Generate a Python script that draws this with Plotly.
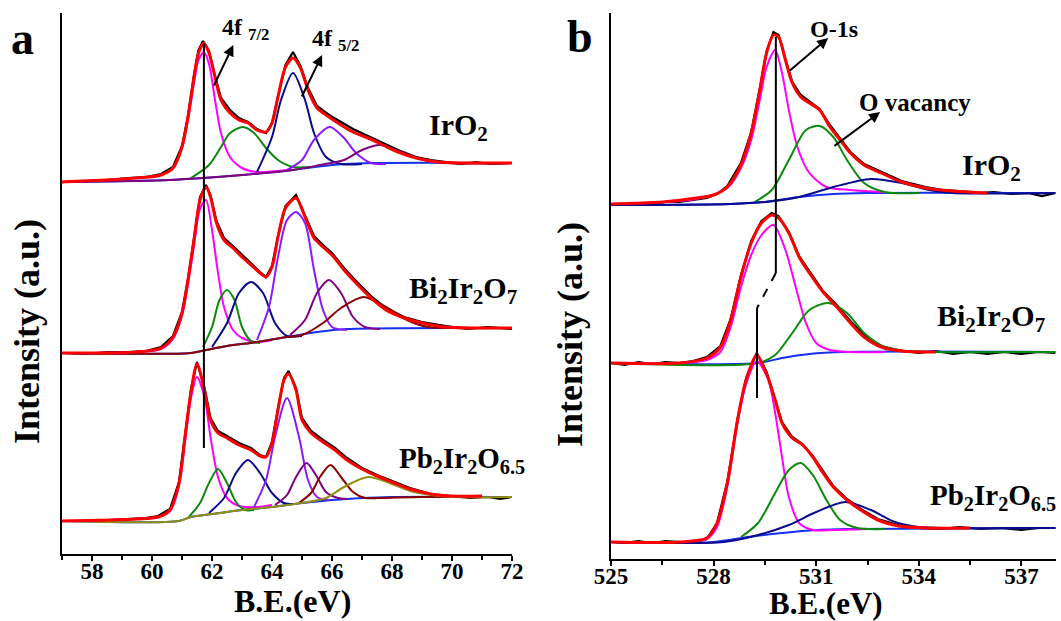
import plotly.graph_objects as go

W, H = 1061, 621

# ---------------- Panel a : Ir 4f ----------------
# IrO2
A1_DAT_X = [57.0, 57.8, 58.5, 59.2, 59.8, 60.3, 60.7, 61.0, 61.2, 61.4, 61.55, 61.7, 61.9, 62.1, 62.3, 62.6, 62.9, 63.2, 63.5, 63.8, 64.0, 64.2, 64.45, 64.7, 64.95, 65.2, 65.5, 65.9, 66.3, 66.7, 67.2, 67.7, 68.2, 68.8, 69.3, 69.8, 70.3, 70.8, 71.3, 72.0]
A1_DAT_Y = [372, 373, 374, 376, 377, 380, 387, 408, 438, 479, 504, 513, 503, 478, 456, 444, 436, 432, 425, 421, 431, 458, 489, 502, 488, 466, 448, 439, 432, 425, 418, 411, 404, 397, 394, 392, 390, 392, 390, 391]
A1_FIT_X = [57.0, 59.5, 60.3, 60.7, 61.0, 61.2, 61.4, 61.55, 61.73, 61.9, 62.1, 62.3, 62.6, 62.9, 63.2, 63.5, 63.8, 64.0, 64.2, 64.45, 64.7, 64.95, 65.2, 65.5, 65.9, 66.3, 66.7, 67.2, 67.7, 68.2, 68.8, 69.5, 70.5, 72.0]
A1_FIT_Y = [372, 376, 379, 386, 407, 437, 477, 501, 511, 501, 477, 454, 441, 434, 431, 424, 422, 431, 457, 487, 496, 486, 464, 446, 437, 429, 422, 416, 409, 402, 396, 392, 391, 391]
A1_BG_X = [57.0, 60.6, 61.7, 63.0, 64.7, 66.0, 67.5, 72.0]
A1_BG_Y = [372, 374, 376, 379, 384, 389, 391, 391]
A1_P1_X = [57.0, 59.5, 60.3, 60.7, 61.0, 61.2, 61.4, 61.55, 61.73, 61.9, 62.1, 62.3, 62.6, 63.0, 63.5, 64.5]
A1_P1_Y = [372, 376, 379, 386, 406, 434, 471, 494, 502, 490, 454, 421, 397, 386, 382, 384]
A1_P2_X = [61.3, 61.9, 62.3, 62.6, 63.03, 63.4, 63.8, 64.2, 64.7, 65.3]
A1_P2_Y = [376, 389, 407, 421, 427, 421, 406, 394, 387, 387]
A1_P3_X = [63.5, 64.0, 64.3, 64.7, 65.1, 65.4, 65.8, 66.3, 67.0]
A1_P3_Y = [382, 417, 454, 481, 454, 421, 397, 390, 390]
A1_P4_X = [64.5, 65.0, 65.4, 65.93, 66.4, 66.8, 67.3, 67.8]
A1_P4_Y = [384, 394, 414, 427, 416, 401, 391, 390]
A1_P5_X = [57.0, 60.6, 61.7, 63.0, 64.7, 65.6, 66.4, 67.0, 67.6, 68.3, 69.0, 69.8, 72.0]
A1_P5_Y = [372, 374, 376, 379, 384, 389, 394, 404, 409, 402, 395, 391, 391]

# Bi2Ir2O7
A2_DAT_X = [57.0, 57.8, 58.5, 59.2, 59.8, 60.3, 60.7, 61.0, 61.2, 61.4, 61.6, 61.8, 61.95, 62.15, 62.4, 62.7, 63.0, 63.3, 63.6, 63.8, 64.0, 64.2, 64.45, 64.8, 65.1, 65.4, 65.7, 66.0, 66.4, 66.8, 67.3, 67.8, 68.4, 69.0, 69.8, 70.5, 71.2, 72.0]
A2_DAT_Y = [201, 200, 202, 202, 203, 207, 218, 242, 275, 316, 357, 369, 359, 333, 316, 308, 299, 291, 282, 277, 288, 318, 348, 359, 339, 318, 309, 301, 286, 273, 258, 246, 237, 232, 228, 225, 227, 225]
A2_FIT_X = [57.0, 59.5, 60.3, 60.7, 61.0, 61.2, 61.4, 61.6, 61.8, 61.95, 62.15, 62.4, 62.7, 63.0, 63.3, 63.6, 63.8, 64.0, 64.2, 64.45, 64.8, 65.1, 65.4, 65.7, 66.0, 66.4, 66.8, 67.3, 67.8, 68.4, 69.0, 69.8, 72.0]
A2_FIT_Y = [201, 202, 206, 217, 241, 274, 314, 354, 367, 357, 331, 314, 306, 297, 289, 281, 277, 287, 317, 346, 356, 337, 316, 307, 299, 284, 271, 256, 244, 236, 231, 227, 226]
A2_BG_X = [57.0, 61.3, 61.8, 62.5, 63.5, 64.5, 65.5, 66.5, 72.0]
A2_BG_Y = [201, 201, 204, 208, 212, 217, 222, 225, 226]
A2_P1_X = [57.0, 59.5, 60.3, 60.7, 61.0, 61.2, 61.4, 61.6, 61.8, 62.0, 62.2, 62.4, 62.7, 63.0, 63.5, 64.0]
A2_P1_Y = [201, 202, 205, 215, 238, 270, 308, 345, 354, 324, 281, 247, 224, 216, 212, 214]
A2_P2_X = [61.7, 62.0, 62.25, 62.5, 62.75, 63.0, 63.3, 63.6]
A2_P2_Y = [207, 227, 254, 264, 254, 227, 213, 211]
A2_P3_X = [62.0, 62.5, 62.9, 63.3, 63.7, 64.1, 64.5, 65.0]
A2_P3_Y = [207, 231, 261, 272, 261, 231, 218, 218]
A2_P4_X = [63.5, 63.9, 64.2, 64.5, 64.8, 65.1, 65.4, 65.7, 66.0, 66.5]
A2_P4_Y = [214, 247, 297, 334, 342, 331, 284, 244, 227, 224]
A2_P5_X = [64.6, 65.1, 65.5, 65.9, 66.3, 66.7, 67.1, 67.6]
A2_P5_Y = [219, 234, 261, 274, 261, 237, 227, 225]
A2_P6_X = [57.0, 61.3, 61.8, 62.5, 63.5, 64.5, 65.0, 65.7, 66.3, 67.05, 67.8, 68.5, 69.2, 70.0, 72.0]
A2_P6_Y = [201, 201, 204, 208, 212, 217, 219, 231, 246, 257, 247, 234, 227, 226, 226]

# Pb2Ir2O6.5
A3_DAT_X = [57.0, 57.8, 58.5, 59.2, 59.8, 60.2, 60.6, 60.9, 61.1, 61.3, 61.5, 61.75, 61.95, 62.2, 62.5, 62.9, 63.3, 63.6, 63.8, 64.0, 64.2, 64.4, 64.55, 64.8, 65.0, 65.3, 65.7, 66.1, 66.5, 67.0, 67.5, 68.0, 68.6, 69.3, 70.0, 70.6, 71.2, 71.6, 72.0]
A3_DAT_Y = [33, 33, 34, 35, 36, 38, 45, 72, 118, 165, 192, 166, 136, 123, 118, 111, 106, 99, 97, 112, 146, 176, 183, 166, 136, 123, 114, 106, 96, 86, 79, 73, 66, 60, 58, 56, 57, 55, 57]
A3_FIT_X = [57.0, 59.5, 60.2, 60.6, 60.9, 61.1, 61.3, 61.5, 61.75, 61.95, 62.2, 62.5, 62.9, 63.3, 63.6, 63.8, 64.0, 64.2, 64.4, 64.55, 64.8, 65.0, 65.3, 65.7, 66.1, 66.5, 67.0, 67.5, 68.0, 68.6, 69.3, 70.0, 71.0]
A3_FIT_Y = [33, 35, 37, 44, 71, 117, 162, 190, 164, 134, 121, 116, 109, 104, 98, 97, 111, 144, 174, 180, 164, 134, 121, 112, 104, 94, 85, 78, 72, 65, 60, 58, 58]
A3_BG_X = [57.0, 60.9, 61.3, 62.0, 63.0, 64.0, 65.0, 66.0, 67.0, 68.0, 72.0]
A3_BG_Y = [33, 33, 37, 40, 44, 47, 51, 54, 56, 57, 57]
A3_P1_X = [57.0, 59.5, 60.2, 60.6, 60.9, 61.1, 61.3, 61.5, 61.75, 61.95, 62.2, 62.5, 62.9, 63.5, 64.0]
A3_P1_Y = [33, 35, 37, 43, 68, 112, 156, 177, 157, 117, 77, 56, 48, 47, 49]
A3_P2_X = [61.2, 61.6, 61.9, 62.2, 62.5, 62.8, 63.1, 63.4]
A3_P2_Y = [36, 51, 71, 85, 71, 52, 44, 44]
A3_P3_X = [61.9, 62.4, 62.8, 63.2, 63.6, 64.0, 64.4, 64.8]
A3_P3_Y = [41, 56, 81, 94, 81, 61, 51, 50]
A3_P4_X = [63.4, 63.8, 64.1, 64.5, 64.9, 65.2, 65.5, 65.9]
A3_P4_Y = [47, 74, 117, 156, 117, 74, 57, 54]
A3_P5_X = [64.1, 64.5, 64.8, 65.15, 65.5, 65.8, 66.2, 66.5]
A3_P5_Y = [49, 59, 77, 91, 77, 62, 56, 55]
A3_P6_X = [64.9, 65.3, 65.6, 65.95, 66.3, 66.7, 67.1, 67.6, 69.0, 71.0]
A3_P6_Y = [51, 61, 77, 89, 77, 62, 56, 56, 57, 57]
A3_P7_X = [57.0, 60.9, 61.3, 62.0, 63.0, 64.0, 65.0, 65.8, 66.4, 67.2, 68.0, 68.6, 69.3, 70.0, 72.0]
A3_P7_Y = [33, 33, 37, 40, 44, 47, 51, 56, 67, 77, 70, 63, 59, 57, 57]

# ---------------- Panel b : O 1s ----------------
B1_DAT_X = [525.0, 525.4, 525.8, 526.2, 526.6, 527.0, 527.4, 527.8, 528.1, 528.4, 528.8, 529.1, 529.35, 529.55, 529.75, 529.9, 530.1, 530.3, 530.55, 530.8, 531.1, 531.4, 531.7, 532.0, 532.4, 532.9, 533.5, 534.2, 534.7, 535.2, 535.7, 536.2, 536.7, 537.2, 537.6, 538.0]
B1_DAT_Y = [355, 354, 356, 355, 357, 357, 359, 361, 365, 373, 396, 427, 470, 508, 527, 524, 500, 477, 464, 458, 450, 434, 420, 407, 395, 387, 378, 372, 369, 368, 366, 367, 365, 366, 363, 366]
B1_FIT_X = [525.0, 526.5, 527.5, 528.0, 528.4, 528.8, 529.1, 529.35, 529.55, 529.75, 529.9, 530.1, 530.3, 530.55, 530.8, 531.1, 531.4, 531.7, 532.0, 532.4, 532.9, 533.5, 534.2, 535.0, 536.0]
B1_FIT_Y = [355, 357, 361, 364, 372, 394, 426, 469, 506, 524, 522, 499, 476, 462, 456, 449, 432, 419, 406, 394, 386, 377, 371, 368, 366]
B1_BG_X = [525.0, 528.5, 529.5, 530.5, 531.5, 532.5, 538.0]
B1_BG_Y = [354, 355, 357, 362, 365, 366, 366]
B1_P1_X = [525.0, 527.5, 528.4, 528.8, 529.1, 529.35, 529.55, 529.8, 530.0, 530.2, 530.45, 530.8, 531.3, 532.0, 533.0]
B1_P1_Y = [355, 360, 371, 391, 419, 459, 492, 509, 486, 449, 412, 386, 372, 369, 367]
B1_P2_X = [529.2, 529.7, 530.2, 530.7, 531.1, 531.5, 531.9, 532.4, 533.0, 534.0]
B1_P2_Y = [357, 369, 399, 429, 433, 422, 399, 376, 367, 366]
B1_P3_X = [525.0, 528.5, 529.5, 530.5, 531.5, 532.6, 533.5, 534.3, 535.0, 538.0]
B1_P3_Y = [354, 355, 357, 362, 372, 380, 376, 369, 366, 366]

B2_DAT_X = [525.0, 525.4, 525.8, 526.2, 526.6, 527.0, 527.4, 527.8, 528.2, 528.5, 528.8, 529.1, 529.4, 529.7, 529.9, 530.2, 530.5, 530.8, 531.2, 531.6, 532.0, 532.4, 532.9, 533.5, 534.0, 534.5, 535.0, 535.5, 536.0, 536.5, 537.0, 537.5, 538.0]
B2_DAT_Y = [196, 194, 197, 195, 197, 196, 198, 202, 213, 240, 284, 318, 338, 346, 343, 327, 303, 288, 268, 254, 238, 224, 213, 208, 206, 208, 205, 207, 205, 207, 205, 207, 206]
B2_FIT_X = [525.0, 527.0, 527.8, 528.2, 528.5, 528.8, 529.1, 529.4, 529.7, 529.9, 530.2, 530.5, 530.8, 531.2, 531.6, 532.0, 532.4, 532.9, 533.5, 534.5]
B2_FIT_Y = [196, 196, 201, 212, 239, 282, 316, 336, 344, 341, 326, 302, 286, 267, 252, 236, 222, 212, 208, 207]
B2_BG_X = [525.0, 529.3, 530.0, 530.8, 531.8, 538.0]
B2_BG_Y = [196, 196, 201, 205, 207, 207]
B2_P1_X = [525.0, 527.0, 527.8, 528.2, 528.5, 528.8, 529.1, 529.4, 529.75, 530.1, 530.4, 530.7, 531.0, 531.4, 532.0, 533.0]
B2_P1_Y = [196, 196, 199, 207, 232, 272, 304, 324, 334, 309, 272, 236, 216, 209, 207, 207]
B2_P2_X = [525.0, 529.3, 529.8, 530.3, 530.8, 531.35, 531.9, 532.4, 533.0, 533.6, 534.5, 538.0]
B2_P2_Y = [196, 196, 204, 226, 249, 256, 246, 226, 212, 208, 207, 207]

B3_DAT_X = [525.0, 525.4, 525.8, 526.2, 526.6, 527.0, 527.4, 527.8, 528.1, 528.4, 528.7, 528.95, 529.26, 529.55, 529.8, 530.0, 530.3, 530.6, 530.9, 531.2, 531.5, 531.9, 532.3, 532.8, 533.4, 534.0, 534.6, 535.2, 535.8, 536.4, 537.0, 537.5, 538.0]
B3_DAT_Y = [17, 16, 18, 16, 18, 17, 16, 20, 36, 77, 140, 181, 206, 187, 160, 137, 122, 115, 103, 88, 73, 60, 50, 40, 34, 31, 30, 32, 30, 31, 29, 31, 31]
B3_FIT_X = [525.0, 527.0, 527.8, 528.1, 528.4, 528.7, 528.95, 529.26, 529.55, 529.8, 530.0, 530.3, 530.6, 530.9, 531.2, 531.5, 531.9, 532.3, 532.8, 533.4, 534.2, 535.5]
B3_FIT_Y = [17, 17, 21, 36, 76, 139, 179, 204, 185, 159, 136, 121, 114, 102, 86, 72, 59, 49, 39, 33, 31, 31]
B3_BG_X = [525.0, 528.0, 529.0, 530.0, 531.0, 532.0, 538.0]
B3_BG_Y = [17, 17, 22, 26, 29, 30, 31]
B3_P1_X = [525.0, 527.0, 527.8, 528.1, 528.4, 528.7, 528.95, 529.26, 529.6, 529.8, 530.0, 530.2, 530.5, 530.9, 531.5, 532.5]
B3_P1_Y = [17, 17, 20, 32, 72, 136, 175, 198, 179, 146, 102, 62, 36, 29, 29, 30]
B3_P2_X = [528.8, 529.3, 529.8, 530.2, 530.55, 530.9, 531.3, 531.7, 532.2, 533.0]
B3_P2_Y = [22, 36, 66, 89, 96, 84, 59, 39, 31, 30]
B3_P3_X = [525.0, 528.3, 529.3, 530.2, 531.0, 531.85, 532.6, 533.3, 534.0, 535.0, 538.0]
B3_P3_Y = [17, 17, 24, 34, 47, 57, 49, 37, 32, 31, 31]

# guide lines and arrows (data coordinates)
A_VLINE_X = [61.73, 61.73]
A_VLINE_Y = [511, 106]
B_VLINE1_X = [529.82, 529.82]
B_VLINE1_Y = [522, 286]
B_DASH_X = [529.82, 529.27]
B_DASH_Y = [286, 251]
B_VLINE2_X = [529.27, 529.27]
B_VLINE2_Y = [251, 161]

ARROWS_A = [(62.04, 467, 62.71, 509), (64.97, 456, 65.67, 499)]
ARROWS_B = [(530.18, 487, 531.35, 521), (531.49, 412, 532.87, 447)]

# colours
MAG = '#FF00FF'
GRN = '#0B8A0B'
NAVY = '#0A0A8C'
VIO = '#8A1AFF'
PUR = '#800080'
BRN = '#8B0000'
OLV = '#8F8F12'
BLU = '#1530F0'
RED = '#FF0000'
BLK = '#000000'

FONT = 'Liberation Serif'

fig = go.Figure()


def curve(xs, ys, color, width, ax, shape='spline', dash=None):
    xa, ya = ('x', 'y') if ax == 'a' else ('x2', 'y2')
    fig.add_trace(go.Scatter(
        x=xs, y=ys, mode='lines', xaxis=xa, yaxis=ya,
        line=dict(color=color, width=width, shape=shape,
                  smoothing=0.8 if shape == 'spline' else None, dash=dash),
        showlegend=False, hoverinfo='skip'))


# panel a spectra
for dat, bg, comps, fit in [
    ((A1_DAT_X, A1_DAT_Y), (A1_BG_X, A1_BG_Y),
     [(A1_P1_X, A1_P1_Y, MAG), (A1_P2_X, A1_P2_Y, GRN), (A1_P3_X, A1_P3_Y, NAVY),
      (A1_P4_X, A1_P4_Y, VIO), (A1_P5_X, A1_P5_Y, PUR)], (A1_FIT_X, A1_FIT_Y)),
    ((A2_DAT_X, A2_DAT_Y), (A2_BG_X, A2_BG_Y),
     [(A2_P1_X, A2_P1_Y, MAG), (A2_P2_X, A2_P2_Y, GRN), (A2_P3_X, A2_P3_Y, NAVY),
      (A2_P4_X, A2_P4_Y, VIO), (A2_P5_X, A2_P5_Y, PUR), (A2_P6_X, A2_P6_Y, BRN)], (A2_FIT_X, A2_FIT_Y)),
    ((A3_DAT_X, A3_DAT_Y), (A3_BG_X, A3_BG_Y),
     [(A3_P1_X, A3_P1_Y, MAG), (A3_P2_X, A3_P2_Y, GRN), (A3_P3_X, A3_P3_Y, NAVY),
      (A3_P4_X, A3_P4_Y, VIO), (A3_P5_X, A3_P5_Y, PUR), (A3_P6_X, A3_P6_Y, BRN),
      (A3_P7_X, A3_P7_Y, OLV)], (A3_FIT_X, A3_FIT_Y)),
]:
    curve(dat[0], dat[1], BLK, 2.2, 'a', shape='linear')
    curve(bg[0], bg[1], BLU, 2, 'a')
    for cx, cy, col in comps:
        curve(cx, cy, col, 2, 'a')
    curve(fit[0], fit[1], RED, 3, 'a')

# panel b spectra
for dat, bg, comps, fit in [
    ((B1_DAT_X, B1_DAT_Y), (B1_BG_X, B1_BG_Y),
     [(B1_P1_X, B1_P1_Y, MAG), (B1_P2_X, B1_P2_Y, GRN), (B1_P3_X, B1_P3_Y, NAVY)], (B1_FIT_X, B1_FIT_Y)),
    ((B2_DAT_X, B2_DAT_Y), (B2_BG_X, B2_BG_Y),
     [(B2_P1_X, B2_P1_Y, MAG), (B2_P2_X, B2_P2_Y, GRN)], (B2_FIT_X, B2_FIT_Y)),
    ((B3_DAT_X, B3_DAT_Y), (B3_BG_X, B3_BG_Y),
     [(B3_P1_X, B3_P1_Y, MAG), (B3_P2_X, B3_P2_Y, GRN), (B3_P3_X, B3_P3_Y, NAVY)], (B3_FIT_X, B3_FIT_Y)),
]:
    curve(dat[0], dat[1], BLK, 2.2, 'b', shape='linear')
    curve(bg[0], bg[1], BLU, 2, 'b')
    for cx, cy, col in comps:
        curve(cx, cy, col, 2, 'b')
    curve(fit[0], fit[1], RED, 3, 'b')

# guide lines
curve(A_VLINE_X, A_VLINE_Y, BLK, 2, 'a', shape='linear')
curve(B_VLINE1_X, B_VLINE1_Y, BLK, 2, 'b', shape='linear')
curve(B_DASH_X, B_DASH_Y, BLK, 2, 'b', shape='linear', dash='dash')
curve(B_VLINE2_X, B_VLINE2_Y, BLK, 2, 'b', shape='linear')


def P(px, py):
    return px / W, 1 - py / H


annotations = []


def text(t, px, py, size, xanchor='center', angle=0):
    x, y = P(px, py)
    annotations.append(dict(text='<b>' + t + '</b>', x=x, y=y, xref='paper', yref='paper',
                            xanchor=xanchor, yanchor='middle', showarrow=False, textangle=angle,
                            font=dict(family=FONT, size=size, color='black')))


text('a', 22, 38, 46)
text('b', 580, 36, 46)
text('Intensity (a.u.)', 27, 332, 36, angle=-90)
text('Intensity (a.u.)', 570, 335, 36, angle=-90)
text('B.E.(eV)', 292, 601, 32)
text('B.E.(eV)', 826, 603, 31)

text('4f <sub>7/2</sub>', 220, 29, 24, xanchor='left')
text('4f <sub>5/2</sub>', 310, 40, 24, xanchor='left')
text('IrO<sub>2</sub>', 427, 127, 30, xanchor='left')
text('Bi<sub>2</sub>Ir<sub>2</sub>O<sub>7</sub>', 407, 290, 30, xanchor='left')
text('Pb<sub>2</sub>Ir<sub>2</sub>O<sub>6.5</sub>', 397, 460, 29, xanchor='left')

text('O-1s', 808, 29, 24, xanchor='left')
text('O vacancy', 857, 102, 25, xanchor='left')
text('IrO<sub>2</sub>', 960, 167, 30, xanchor='left')
text('Bi<sub>2</sub>Ir<sub>2</sub>O<sub>7</sub>', 935, 318, 30, xanchor='left')
text('Pb<sub>2</sub>Ir<sub>2</sub>O<sub>6.5</sub>', 928, 497, 29, xanchor='left')

for (tx, ty, hx, hy) in ARROWS_A:
    annotations.append(dict(x=hx, y=hy, ax=tx, ay=ty, xref='x', yref='y', axref='x', ayref='y',
                            text='', showarrow=True, arrowhead=2, arrowsize=1.1, arrowwidth=2,
                            arrowcolor='black'))
for (tx, ty, hx, hy) in ARROWS_B:
    annotations.append(dict(x=hx, y=hy, ax=tx, ay=ty, xref='x2', yref='y2', axref='x2', ayref='y2',
                            text='', showarrow=True, arrowhead=2, arrowsize=1.1, arrowwidth=2,
                            arrowcolor='black'))

tickfont = dict(family=FONT, size=23, color='black', weight='bold')
common_x = dict(showline=True, linewidth=2, linecolor='black', ticks='outside', ticklen=5,
                tickwidth=2, tickcolor='black', showgrid=False, zeroline=False, tickfont=tickfont,
                automargin=False)
common_y = dict(showline=True, linewidth=2, linecolor='black', ticks='', showticklabels=False,
                showgrid=False, zeroline=False, automargin=False)

fig.update_layout(
    template='none',
    width=W, height=H, margin=dict(l=0, r=0, t=0, b=0, pad=0, autoexpand=False),
    paper_bgcolor='white', plot_bgcolor='white', showlegend=False,
    xaxis=dict(domain=[62 / W, 512 / W], range=[57, 72], anchor='y', tick0=58, dtick=2,
               ticklabelstandoff=-10,
               minor=dict(ticks='outside', ticklen=4, tickwidth=2, tickcolor='black', tick0=57, dtick=1),
               **common_x),
    yaxis=dict(domain=[1 - 554 / H, 1 - 13 / H], range=[0, 541], anchor='x', **common_y),
    xaxis2=dict(domain=[611 / W, 1055.6 / W], range=[525, 538], anchor='y2', tick0=525, dtick=3,
                ticklabelstandoff=-10,
                minor=dict(ticks='outside', ticklen=4, tickwidth=2, tickcolor='black', tick0=525, dtick=1.5),
                **common_x),
    yaxis2=dict(domain=[1 - 559 / H, 1 - 13 / H], range=[0, 546], anchor='x2', **common_y),
    annotations=annotations,
)

fig.write_html('out.html', config={'displayModeBar': False},
               post_script="document.body.style.margin='0';document.body.style.overflow='hidden';")
